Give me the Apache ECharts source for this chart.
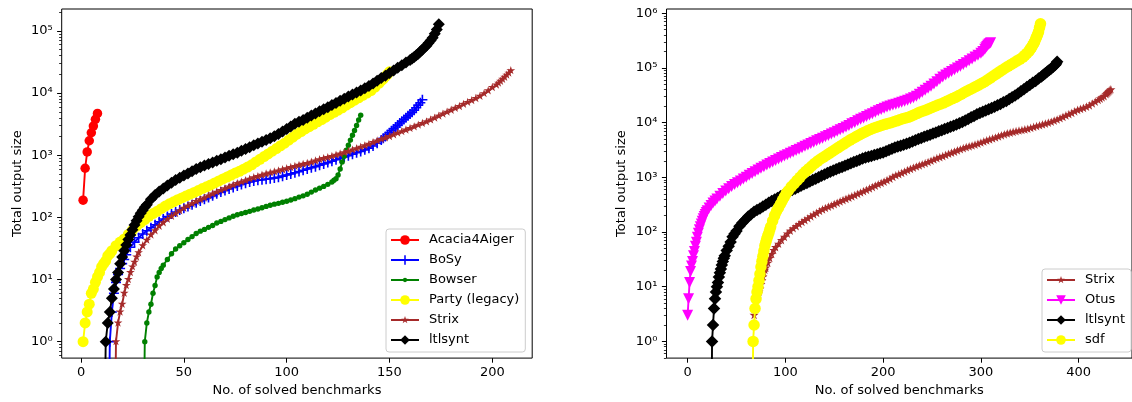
<!DOCTYPE html>
<html><head><meta charset="utf-8">
<script src="https://cdn.jsdelivr.net/npm/echarts@6.0.0/dist/echarts.min.js"></script>
<style>html,body{margin:0;padding:0;background:#fff}#c{width:1132px;height:402px}</style>
</head><body><div id="c"></div>
<script>
// ---------- data (x = no. of solved benchmarks, y = total output size; 0 = below log range) ----------
const acaciaL = [[1,189],[2,617],[3,1130],[4,1710],[5,2300],[6,2950],[7,3780],[8,4700]];
const bosyL = [[13,0],[14,1],[15,3],[16,6],[17,9],[18,12],[19,15],[20,18],[21,21],[22,25],[24,33],[26,40],[28,47],[30,54],[32,61],[34,68],[36,76],[38,85],[40,94],[42,103],[44,113],[46,122],[48,131],[50,140],[52,150],[54,160],[56,172],[58,183],[60,195],[62,208],[64,222],[66,240],[68,255],[70,270],[72,287],[74,303],[76,320],[78,338],[80,355],[82,372],[84,385],[86,395],[88,403],[90,410],[92,420],[94,430],[96,440],[98,460],[100,480],[102,500],[104,522],[106,545],[108,572],[110,600],[112,627],[114,655],[116,690],[118,725],[120,760],[122,800],[124,845],[126,890],[128,935],[130,980],[132,1040],[134,1100],[136,1150],[138,1220],[140,1300],[142,1410],[144,1560],[146,1750],[147,1880],[148,2000],[149,2150],[150,2300],[151,2470],[152,2650],[153,2850],[154,3050],[155,3300],[156,3520],[157,3750],[158,4000],[159,4300],[160,4600],[161,4900],[162,5300],[163,5800],[164,6400],[165,7000],[166,7800]];
const bowserL = [[30,0],[31,1],[32,2],[33,3],[34,4],[35,6],[36,8],[37,11],[38,13],[39,15],[40,17],[42,21],[44,26],[46,31],[48,35],[50,39],[52,44],[54,49],[56,55],[58,60],[60,64],[62,69],[64,74],[66,81],[68,86],[70,92],[72,98],[74,104],[76,110],[78,115],[80,120],[82,125],[84,131],[86,136],[88,143],[90,150],[92,157],[94,163],[96,168],[98,175],[100,182],[102,190],[104,200],[106,212],[108,222],[110,235],[112,255],[114,275],[116,295],[118,315],[120,340],[122,370],[123,395],[124,420],[125,480],[126,600],[127,780],[128,960],[129,1200],[130,1450],[131,1750],[132,2100],[133,2500],[134,3000],[135,3700],[136,4400]];
const partyL = [[1,1],[2,2],[3,3],[4,4],[5,6],[6,7],[7,9],[8,11],[9,13],[10,16],[11,18],[12,20],[13,24],[14,26],[15,29],[17,35],[19,40],[21,45],[23,53],[25,62],[27,72],[29,82],[31,92],[33,104],[35,115],[37,125],[39,138],[41,152],[43,165],[45,178],[47,192],[49,205],[51,220],[53,236],[55,252],[57,270],[59,290],[61,310],[63,333],[65,358],[67,385],[69,415],[71,445],[73,480],[75,515],[77,550],[79,595],[81,645],[83,700],[85,780],[87,860],[89,950],[91,1050],[93,1160],[95,1280],[97,1420],[99,1560],[101,1750],[103,1950],[105,2180],[107,2400],[109,2650],[111,2880],[113,3150],[115,3450],[117,3750],[119,4100],[121,4500],[123,4900],[125,5300],[127,5800],[129,6400],[131,7000],[133,7700],[135,8400],[137,9200],[139,10000],[141,11000],[143,12500],[145,14500],[146,15800],[147,17000],[148,18500],[149,20000],[150,22000]];
const strixL = [[16,0],[17,1],[18,2],[19,3],[20,4],[21,6],[22,8],[23,10],[24,13],[25,16],[26,19],[27,23],[28,27],[30,35],[32,43],[34,52],[36,61],[38,72],[40,82],[42,93],[44,104],[46,115],[48,127],[50,140],[52,153],[54,166],[56,180],[58,192],[60,205],[62,222],[64,238],[66,255],[68,272],[70,290],[72,310],[74,330],[76,350],[78,370],[80,390],[82,413],[84,435],[86,455],[88,478],[90,500],[92,520],[94,540],[96,560],[98,585],[100,610],[102,636],[104,663],[106,690],[108,715],[110,740],[112,773],[114,810],[116,850],[118,885],[120,920],[122,960],[124,1005],[126,1050],[128,1100],[130,1150],[132,1215],[134,1280],[136,1350],[138,1420],[140,1500],[142,1600],[144,1700],[146,1800],[148,1900],[150,2000],[152,2130],[154,2270],[156,2400],[158,2550],[160,2700],[162,2870],[164,3050],[166,3250],[168,3450],[170,3700],[172,3970],[174,4270],[176,4600],[178,4950],[180,5300],[182,5700],[184,6100],[186,6600],[188,7100],[190,7600],[192,8200],[194,8900],[196,9800],[198,10900],[200,12300],[202,13500],[203,14500],[204,15500],[205,16700],[206,18000],[207,19500],[208,21000],[209,23000]];
const ltlsyntL = [[11,0],[12,1],[13,2],[14,3],[15,5],[16,7],[17,10],[18,13],[19,18],[20,23],[21,29],[22,36],[23,44],[24,52],[25,63],[26,75],[27,88],[28,102],[29,116],[30,130],[31,145],[32,160],[34,195],[36,230],[38,260],[40,290],[42,325],[44,360],[46,400],[48,435],[50,470],[52,510],[54,550],[56,600],[58,640],[60,680],[62,720],[64,765],[66,815],[68,860],[70,920],[72,980],[74,1040],[76,1100],[78,1180],[80,1260],[82,1340],[84,1440],[86,1540],[88,1640],[90,1760],[92,1880],[94,2020],[96,2200],[98,2400],[100,2650],[102,2900],[104,3200],[106,3450],[108,3700],[110,4000],[112,4350],[114,4700],[116,5100],[118,5500],[120,5900],[122,6400],[124,6900],[126,7500],[128,8100],[130,8800],[132,9500],[134,10200],[136,11000],[138,12000],[140,13000],[142,14300],[144,15800],[146,17500],[148,19000],[150,21000],[152,23000],[154,25500],[156,28000],[158,31000],[160,34000],[161,36000],[162,38000],[163,40500],[164,43000],[165,46500],[166,50000],[167,54000],[168,58000],[169,64000],[170,70000],[171,78000],[172,90000],[173,105000],[174,128000]];

const strixR = [[68,3],[69,4],[70,5],[71,6],[72,7],[73,8],[74,9],[75,11],[76,13],[77,15],[78,18],[79,20],[80,22],[82,27],[84,33],[86,39],[88,46],[90,52],[93,60],[96,70],[99,80],[102,92],[105,104],[108,115],[111,126],[114,138],[117,150],[120,162],[123,175],[126,190],[129,205],[132,220],[135,238],[138,255],[141,270],[144,285],[147,300],[150,318],[153,336],[156,356],[159,376],[162,396],[165,418],[168,440],[171,463],[174,490],[177,518],[180,548],[183,580],[186,615],[189,652],[192,692],[195,734],[198,775],[201,820],[204,870],[207,925],[210,1000],[213,1070],[216,1120],[219,1180],[222,1250],[225,1325],[228,1400],[231,1475],[234,1550],[237,1625],[240,1700],[243,1780],[246,1870],[249,1970],[252,2080],[255,2200],[258,2300],[261,2400],[264,2520],[267,2650],[270,2770],[273,2900],[276,3050],[279,3200],[282,3350],[285,3500],[288,3620],[291,3750],[294,3900],[297,4050],[300,4250],[303,4450],[306,4650],[309,4850],[312,5050],[315,5250],[318,5500],[321,5750],[324,6000],[327,6250],[330,6450],[333,6650],[336,6850],[339,7050],[342,7200],[345,7400],[348,7600],[351,7900],[354,8200],[357,8500],[360,8800],[363,9100],[366,9450],[369,9800],[372,10200],[375,10700],[378,11200],[381,11800],[384,12500],[387,13300],[390,14000],[393,14800],[396,15800],[399,16800],[402,17500],[405,18300],[408,19200],[411,20300],[414,22000],[417,23700],[420,25500],[422,27000],[424,28500],[426,30000],[428,32500],[429,34000],[430,35500],[431,37000],[432,38500],[433,40000]];
const otusR = [[0,3],[1,6],[2,12],[3,19],[4,24],[5,29],[6,37],[7,44],[8,55],[9,65],[10,80],[11,95],[12,110],[13,125],[14,140],[15,157],[16,175],[17,192],[18,210],[19,228],[20,245],[22,275],[24,305],[26,340],[28,370],[30,400],[33,450],[36,505],[39,560],[42,620],[45,680],[48,740],[51,800],[54,860],[57,935],[60,1000],[63,1090],[66,1180],[69,1270],[72,1360],[75,1460],[78,1570],[81,1680],[84,1800],[87,1910],[90,2030],[93,2160],[96,2300],[99,2450],[102,2600],[105,2750],[108,2900],[111,3100],[114,3280],[117,3480],[120,3700],[123,3920],[126,4150],[129,4400],[132,4650],[135,4900],[138,5200],[141,5500],[144,5850],[147,6200],[150,6550],[153,6950],[156,7400],[159,7850],[162,8300],[165,8900],[168,9500],[171,10100],[174,10800],[177,11500],[180,12200],[183,13000],[186,13800],[189,14600],[192,15500],[195,16500],[198,17400],[201,18400],[204,19300],[207,20200],[210,21000],[213,21800],[216,22600],[219,23500],[222,24500],[225,25600],[228,27000],[231,28600],[234,30500],[237,33000],[240,36000],[243,39000],[246,42500],[249,46500],[252,51000],[255,56000],[258,62000],[261,68000],[264,74000],[267,80000],[270,86000],[273,93000],[276,100000],[279,108000],[282,116000],[285,125000],[288,135000],[291,146000],[294,158000],[297,170000],[300,185000],[302,200000],[304,220000],[305,235000],[306,248000],[307,260000],[308,270000],[309,280000],[310,290000]];
const ltlsyntR = [[24,0],[25,1],[26,2],[27,4],[28,6],[29,8],[30,10],[31,12],[32,15],[33,18],[34,21],[35,25],[36,29],[37,33],[38,37],[40,46],[42,55],[44,66],[46,82],[48,93],[50,105],[53,128],[56,148],[59,168],[62,192],[65,212],[68,235],[71,252],[74,270],[77,292],[80,315],[83,342],[86,370],[89,395],[92,420],[95,450],[98,480],[101,515],[104,550],[107,585],[110,620],[113,660],[116,700],[119,745],[122,790],[125,840],[128,890],[131,945],[134,1000],[137,1065],[140,1130],[143,1200],[146,1270],[149,1335],[152,1400],[155,1475],[158,1550],[161,1630],[164,1720],[167,1810],[170,1900],[173,2000],[176,2100],[179,2200],[182,2300],[185,2380],[188,2450],[191,2550],[194,2650],[197,2750],[200,2850],[203,3000],[206,3150],[209,3330],[212,3500],[215,3650],[218,3800],[221,3950],[224,4100],[227,4300],[230,4500],[233,4750],[236,5000],[239,5250],[242,5500],[245,5750],[248,6000],[251,6300],[254,6600],[257,6950],[260,7300],[263,7650],[266,8000],[269,8400],[272,8800],[275,9250],[278,9700],[281,10300],[284,11000],[287,11700],[290,12500],[293,13300],[296,14200],[299,15000],[302,15800],[305,16600],[308,17500],[311,18500],[314,19500],[317,20700],[320,22000],[323,23500],[326,25000],[329,27000],[332,29000],[335,31500],[338,34000],[341,37500],[344,41000],[347,45000],[350,49000],[353,53500],[356,58000],[359,64000],[362,70000],[364,75000],[366,80000],[368,86000],[370,92000],[372,98000],[374,105000],[376,113000],[377,120000],[378,130000]];
const sdfR = [[66,0],[67,1],[68,2],[69,4],[70,6],[71,8],[72,10],[73,13],[74,17],[75,23],[76,29],[77,36],[78,45],[79,56],[80,65],[81,75],[82,85],[83,95],[84,110],[85,125],[87,160],[89,200],[91,240],[93,280],[95,325],[97,380],[99,440],[101,510],[103,570],[106,670],[109,765],[112,880],[115,1000],[118,1150],[121,1290],[124,1440],[127,1610],[130,1800],[133,1980],[136,2160],[139,2340],[142,2540],[145,2750],[148,2980],[151,3230],[154,3500],[157,3800],[160,4100],[163,4450],[166,4800],[169,5150],[172,5500],[175,5900],[178,6300],[181,6700],[184,7100],[187,7500],[190,7900],[193,8250],[196,8600],[199,8950],[202,9300],[205,9650],[208,10000],[211,10400],[214,10800],[217,11300],[220,11800],[223,12200],[226,12600],[229,13300],[232,14000],[235,14800],[238,15700],[241,16300],[244,17000],[247,18000],[250,19000],[253,20000],[256,21000],[259,22000],[262,23000],[265,24500],[268,26000],[271,27500],[274,29000],[277,31000],[280,33000],[283,35500],[286,38000],[289,40500],[292,43000],[295,46000],[298,49000],[301,52500],[304,56000],[307,61000],[310,66000],[313,72000],[316,78000],[319,85000],[322,92000],[325,100000],[328,108000],[331,116000],[334,125000],[337,135000],[340,145000],[343,158000],[345,170000],[347,185000],[349,200000],[350,215000],[351,228000],[352,240000],[353,260000],[354,280000],[355,300000],[356,335000],[357,370000],[358,410000],[359,460000],[360,550000],[361,640000]];

const leftXTicks = [0, 50, 100, 150, 200];
const rightXTicks = [0, 100, 200, 300, 400];
const leftYExps = [0, 1, 2, 3, 4, 5];
const rightYExps = [0, 1, 2, 3, 4, 5, 6];
const legendLeft = ['Acacia4Aiger', 'BoSy', 'Bowser', 'Party (legacy)', 'Strix', 'ltlsynt'];
const legendRight = ['Strix', 'Otus', 'ltlsynt', 'sdf'];

// ---------- style / layout ----------
const FONT = 'DejaVu Sans';
const FS = 13;
const SUP = {'0':'\u2070','1':'\u00b9','2':'\u00b2','3':'\u00b3','4':'\u2074','5':'\u2075','6':'\u2076'};
const LY = [-0.265, 5.353], RY = [-0.305, 6.078];
const LX = [-9.4, 219.4], RX = [-21.6, 454.6];

const SYM = {
  circle: 'circle',
  diamond: 'diamond',
  star: 'path://M0,0M12,12M6,1L7.12,4.45L10.76,4.46L7.82,6.59L8.94,10.05L6,7.91L3.06,10.05L4.18,6.59L1.24,4.46L4.88,4.45Z',
  plus: 'path://M4.2,0H5.8V4.2H10V5.8H5.8V10H4.2V5.8H0V4.2H4.2Z',
  dot: 'path://M0,0M12,12M3.3,6A2.7,2.7,0,1,0,8.7,6A2.7,2.7,0,1,0,3.3,6Z',
  tridown: 'path://M0,0L10,0L5,10Z'
};

function minorLogs(lo, hi) {
  const out = [];
  for (let e = Math.floor(lo) - 1; e <= Math.ceil(hi); e++)
    for (let k = 2; k <= 9; k++) { const v = e + Math.log10(k); if (v > lo && v < hi) out.push(+v.toFixed(5)); }
  return out;
}
const txt = {fontFamily: FONT, fontSize: FS, color: '#000'};

function xAxisCfg(g, ext, ticks) {
  return {type: 'value', gridIndex: g, min: ext[0], max: ext[1],
    name: 'No. of solved benchmarks', nameLocation: 'middle', nameGap: 24, nameTextStyle: txt,
    axisLine: {show: false, onZero: false}, splitLine: {show: false},
    axisTick: {show: true, length: 4.6, lineStyle: {color: '#000', width: 1}, customValues: ticks},
    axisLabel: Object.assign({show: true, margin: 8, customValues: ticks, formatter: v => String(v)}, txt)};
}
function yLogCfg(g, ext) {
  return {type: 'log', logBase: 10, gridIndex: g, min: Math.pow(10, ext[0]), max: Math.pow(10, ext[1]), position: 'left',
    axisLine: {show: false, onZero: false}, axisTick: {show: false}, axisLabel: {show: false}, splitLine: {show: false}};
}
function yMajorCfg(g, ext, exps) {
  return {type: 'value', gridIndex: g, min: ext[0], max: ext[1], position: 'left',
    name: 'Total output size', nameLocation: 'middle', nameGap: 38, nameTextStyle: txt,
    axisLine: {show: false, onZero: false}, splitLine: {show: false},
    axisTick: {show: true, length: 4.6, lineStyle: {color: '#000', width: 1}, customValues: exps},
    axisLabel: Object.assign({show: true, margin: 9, customValues: exps, padding: [4, 0, 0, 0],
      formatter: v => '10' + SUP[String(Math.round(v))]}, txt)};
}
function yMinorCfg(g, ext) {
  return {type: 'value', gridIndex: g, min: ext[0], max: ext[1], position: 'left',
    axisLine: {show: false, onZero: false}, splitLine: {show: false}, axisLabel: {show: false},
    axisTick: {show: true, length: 2.6, lineStyle: {color: '#000', width: 0.8}, customValues: minorLogs(ext[0], ext[1])}};
}

let zc = 2;
function line(name, pts, color, sym, size, xi, yi) {
  return {type: 'line', name, xAxisIndex: xi, yAxisIndex: yi, z: zc++, clip: true,
    data: pts.map(p => [p[0], p[1] > 0 ? p[1] : 1e-3]),
    symbol: SYM[sym], symbolSize: size, showSymbol: true, showAllSymbol: true,
    color, lineStyle: {color, width: 1.9}, itemStyle: {color},
    emphasis: {disabled: true}, animation: false};
}

const legendBase = {orient: 'vertical', itemWidth: 28, itemHeight: 12, itemGap: 4, padding: [3, 6, 4, 4],
  backgroundColor: 'rgba(255,255,255,0.8)', borderColor: '#cccccc', borderWidth: 1, borderRadius: 3,
  selectedMode: false, textStyle: Object.assign({lineHeight: 16, padding: [0, 0, 0, 5]}, txt)};

const option = {
  animation: false,
  backgroundColor: '#fff',
  textStyle: {fontFamily: FONT},
  grid: [
    {left: 61.7, right: 1132 - 532.2, top: 9, bottom: 43, show: true, borderColor: '#000', borderWidth: 1, backgroundColor: 'transparent'},
    {left: 666.5, right: 1132 - 1135.6, top: 9, bottom: 43, show: true, borderColor: '#000', borderWidth: 1, backgroundColor: 'transparent'}
  ],
  xAxis: [xAxisCfg(0, LX, leftXTicks), xAxisCfg(1, RX, rightXTicks)],
  yAxis: [yLogCfg(0, LY), yMajorCfg(0, LY, leftYExps), yMinorCfg(0, LY),
          yLogCfg(1, RY), yMajorCfg(1, RY, rightYExps), yMinorCfg(1, RY)],
  legend: [
    Object.assign({}, legendBase, {data: legendLeft, left: 386, top: 229}),
    Object.assign({}, legendBase, {data: legendRight, left: 1042, top: 269})
  ],
  series: [
    line('Acacia4Aiger', acaciaL, '#ff0000', 'circle', 9.5, 0, 0),
    line('BoSy', bosyL, '#0000ff', 'plus', 10, 0, 0),
    line('Bowser', bowserL, '#008000', 'dot', 12, 0, 0),
    line('Party (legacy)', partyL, '#ffff00', 'circle', 11, 0, 0),
    line('Strix', strixL, '#a52a2a', 'star', 11, 0, 0),
    line('ltlsynt', ltlsyntL, '#000000', 'diamond', 12, 0, 0),
    line('Strix', strixR, '#a52a2a', 'star', 11.5, 1, 3),
    line('Otus', otusR, '#ff00ff', 'tridown', 11, 1, 3),
    line('ltlsynt', ltlsyntR, '#000000', 'diamond', 12.5, 1, 3),
    line('sdf', sdfR, '#ffff00', 'circle', 11.5, 1, 3)
  ]
};
const chart = echarts.init(document.getElementById('c'), null, {renderer: 'canvas'});
chart.setOption(option);
</script></body></html>
